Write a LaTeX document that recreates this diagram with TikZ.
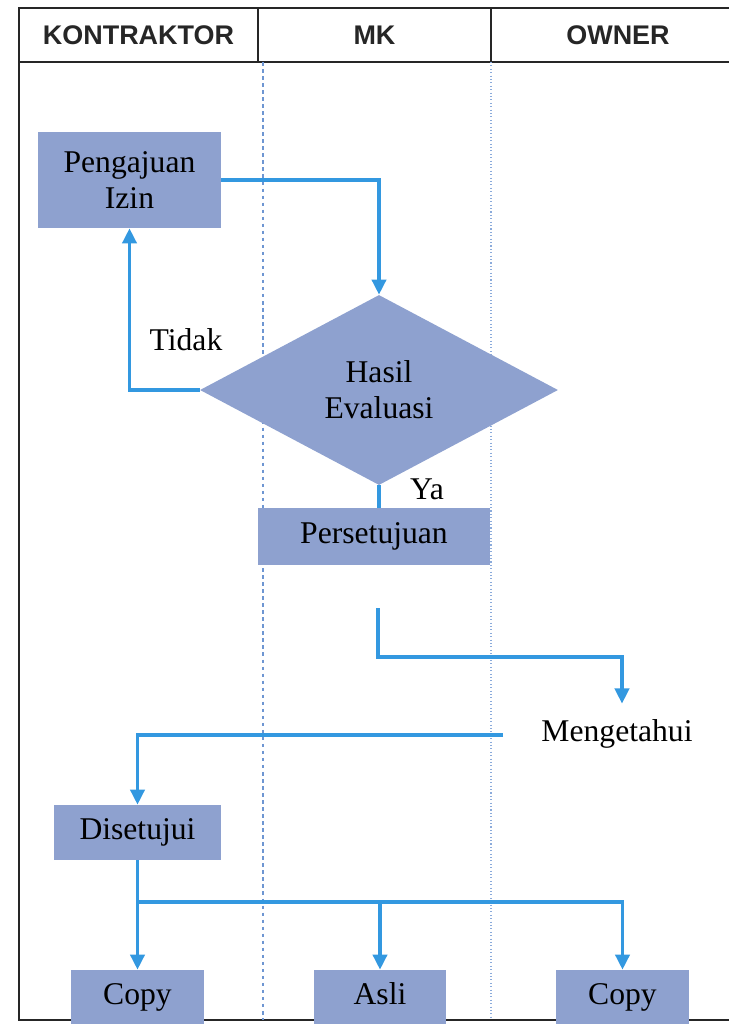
\documentclass[tikz,border=0pt]{standalone}
\usepackage{fontspec}
\setmainfont{Liberation Serif}
\newfontfamily\headfont{Liberation Sans}
\usetikzlibrary{shapes.geometric,arrows.meta,calc}
\definecolor{boxblue}{RGB}{142,161,207}
\definecolor{lineblue}{RGB}{51,152,224}
\definecolor{laneblue}{RGB}{110,150,210}
\def\pu{0.03cm}

\begin{document}
\begin{tikzpicture}[x=\pu,y=-\pu,font=\fontsize{27}{31}\selectfont,
    flow/.style={draw=lineblue,line width=3.4pt,-{Triangle[width=12pt,length=13pt]}},
    head/.style={font=\headfont\bfseries\fontsize{23}{26}\selectfont,text=black!85},
    oneline/.style={text height=18pt,text depth=6pt}]
    \tikzstyle{element}=[fill=boxblue,inner sep=0pt,align=center]

    \useasboundingbox (0,0) rectangle (729,1024);
    \clip (0,0) rectangle (729,1024);

    \draw[black!85,line width=1.7pt] (19,8) rectangle (745,62);
    \draw[black!85,line width=1.7pt] (745,1020) -- (19,1020) -- (19,62);
    \draw[black!85,line width=1.5pt] (258,8) -- (258,62) (491,8) -- (491,62);
    \node[head] (hkon) at (138.5,35) {KONTRAKTOR};
    \node[head] (hmk) at (374.5,35) {MK};
    \node[head] (hown) at (618,35) {OWNER};

    \draw[laneblue,dashed,line width=0.9pt] (263,62) -- (263,1020);
    \draw[laneblue!80,dotted,line width=0.9pt] (491,62) -- (491,1020);

    \node[element,minimum width=183*\pu,minimum height=96*\pu] (ajuan) at (129.5,180) {Pengajuan\\Izin};
    \node[element,diamond,aspect=1.88,minimum width=358*\pu,minimum height=190*\pu] (eval) at (379,390) {Hasil\\Evaluasi};
    \node[element,oneline,minimum width=232*\pu,minimum height=57*\pu] (setuju) at (374,536.5) {Persetujuan};
    \node[oneline,inner sep=0pt] (tahu) at (617,734) {Mengetahui};
    \node[element,oneline,minimum width=167*\pu,minimum height=55*\pu] (disetujui) at (137.5,832.5) {Disetujui};
    \node[element,oneline,minimum width=133*\pu,minimum height=54*\pu] (copyk) at (137.5,997) {Copy};
    \node[element,oneline,minimum width=132*\pu,minimum height=54*\pu] (asli) at (380,997) {Asli};
    \node[element,oneline,minimum width=133*\pu,minimum height=54*\pu] (copyo) at (622.5,997) {Copy};
    \node (tidak) at (186,340) {Tidak};
    \node (ya) at (427,489) {Ya};

    \draw[flow] (ajuan.east) -| (eval.north);
    \draw[flow] (eval.west) -| (ajuan.south);
    \draw[draw=lineblue,line width=3.4pt] (eval.south) -- (eval.south |- setuju.north);
    \coordinate (turun) at (378,608);
    \draw[flow] (turun) -- ++(0,49) -| ([shift={(5,-16)}]tahu.north);
    \draw[flow] ([shift={(-38,1)}]tahu.west) -| (disetujui.north);
    \draw[flow] (disetujui) -- (copyk);
    \coordinate (cabang) at (137.5,902);
    \draw[flow] (cabang) -| (asli.north);
    \draw[flow] (cabang) -| (copyo.north);

  \end{tikzpicture}
\end{document}
